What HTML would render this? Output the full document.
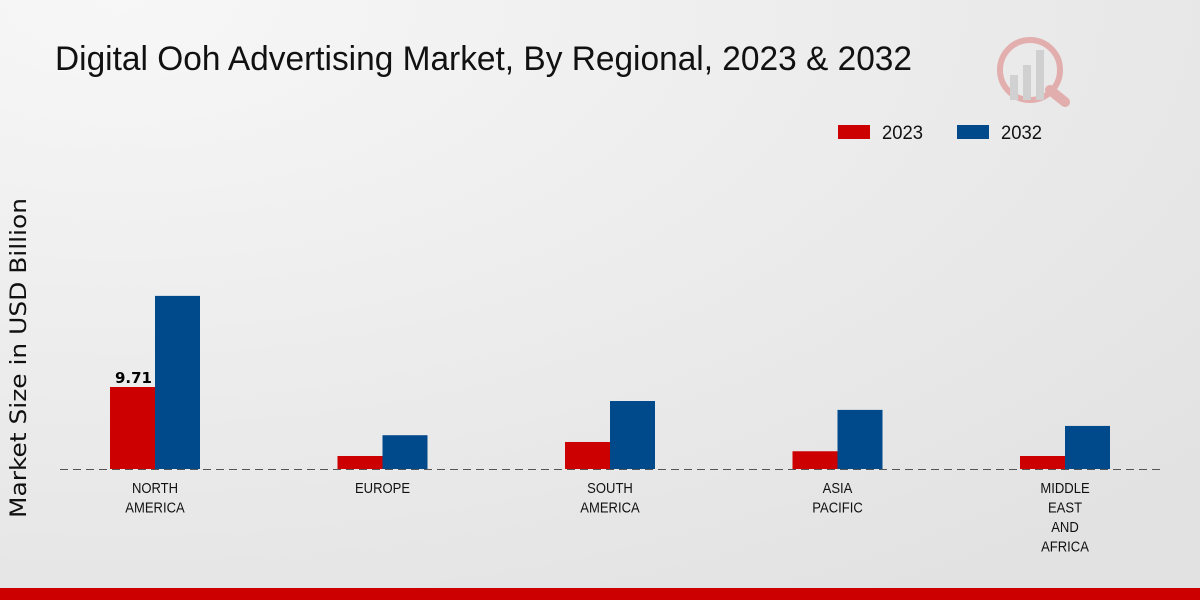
<!DOCTYPE html>
<html><head><meta charset="utf-8"><style>
body{margin:0;width:1200px;height:600px;overflow:hidden;font-family:"Liberation Sans Narrow","Liberation Sans",sans-serif}
</style></head><body>
<svg id="chart" width="1200" height="600" xmlns="http://www.w3.org/2000/svg">
<defs><radialGradient id="bg" cx="0.1" cy="0" r="1.2"><stop offset="0" stop-color="#f7f7f7"/><stop offset="1" stop-color="#e2e2e2"/></radialGradient></defs>
<rect width="1200" height="600" fill="url(#bg)"/>
<text x="55" y="70" font-size="34" fill="#111" textLength="857" lengthAdjust="spacingAndGlyphs">Digital Ooh Advertising Market, By Regional, 2023 &amp; 2032</text>
<g opacity="0.25">
<circle cx="1030" cy="70" r="30" fill="none" stroke="#c00" stroke-width="6"/>
<line x1="1050" y1="90" x2="1065" y2="102" stroke="#c00" stroke-width="10" stroke-linecap="round"/>
<rect x="1010" y="75" width="8" height="25" fill="#888"/><rect x="1023" y="65" width="8" height="35" fill="#888"/><rect x="1036" y="50" width="8" height="50" fill="#888"/>
</g>
<g>
<rect x="838" y="125" width="32" height="14" fill="#cc0000"/>
<text x="882" y="139" font-size="19" fill="#111" textLength="41" lengthAdjust="spacingAndGlyphs">2023</text>
<rect x="957" y="125" width="32" height="14" fill="#004a8c"/>
<text x="1001" y="139" font-size="19" fill="#111" textLength="41" lengthAdjust="spacingAndGlyphs">2032</text>
</g>
<text transform="translate(26,358) rotate(-90)" x="-160" font-family="DejaVu Sans, sans-serif" font-size="22" fill="#111" textLength="320" lengthAdjust="spacingAndGlyphs">Market Size in USD Billion</text>
<g id="bars"></g>
<line x1="60" y1="469.5" x2="1160" y2="469.5" stroke="#555" stroke-dasharray="8,5"/>
<g id="xlabels"></g>
<rect x="0" y="588" width="1200" height="12" fill="#cc0000"/>
</svg>
<script>
const categories=[["NORTH","AMERICA"],["EUROPE"],["SOUTH","AMERICA"],["ASIA","PACIFIC"],["MIDDLE","EAST","AND","AFRICA"]];
const values2023=[9.71,1.54,3.2,2.1,1.54];
const values2032=[20.5,4.0,8.05,7.0,5.1];
const ns="http://www.w3.org/2000/svg";
const base=469, scale=8.445, x0=155, step=227.5, bw=45;
const y=v=>base-v*scale;
const xc=i=>x0+i*step;
const bars=document.getElementById('bars'), xl=document.getElementById('xlabels');
categories.forEach((c,i)=>{
  [[values2023,'#cc0000',-bw,'2023'],[values2032,'#004a8c',0,'2032']].forEach(([arr,col,off,yr])=>{
    const r=document.createElementNS(ns,'rect');
    r.setAttribute('x',xc(i)+off);r.setAttribute('y',y(arr[i]));
    r.setAttribute('width',bw);r.setAttribute('height',base-y(arr[i]));r.setAttribute('fill',col);
    
    
    bars.appendChild(r);
  });
  const t=document.createElementNS(ns,'text');
  t.setAttribute('text-anchor','middle');t.setAttribute('font-size','15');t.setAttribute('fill','#111');
  t.setAttribute('transform','translate('+xc(i)+',0) scale(0.87,1)');
  c.forEach((line,k)=>{const s=document.createElementNS(ns,'tspan');s.setAttribute('x',0);s.setAttribute('y',493+k*19.5);s.textContent=line;t.appendChild(s);});
  
  
  xl.appendChild(t);
});
const lbl=document.createElementNS(ns,'text');
lbl.setAttribute('x',xc(0)-bw/2+1);lbl.setAttribute('y',y(values2023[0])-4);
lbl.setAttribute('text-anchor','middle');lbl.setAttribute('font-size','15');lbl.setAttribute('font-weight','bold');
lbl.setAttribute('font-family','DejaVu Sans, sans-serif');
lbl.textContent=values2023[0];


bars.appendChild(lbl);
</script>
</body></html>
